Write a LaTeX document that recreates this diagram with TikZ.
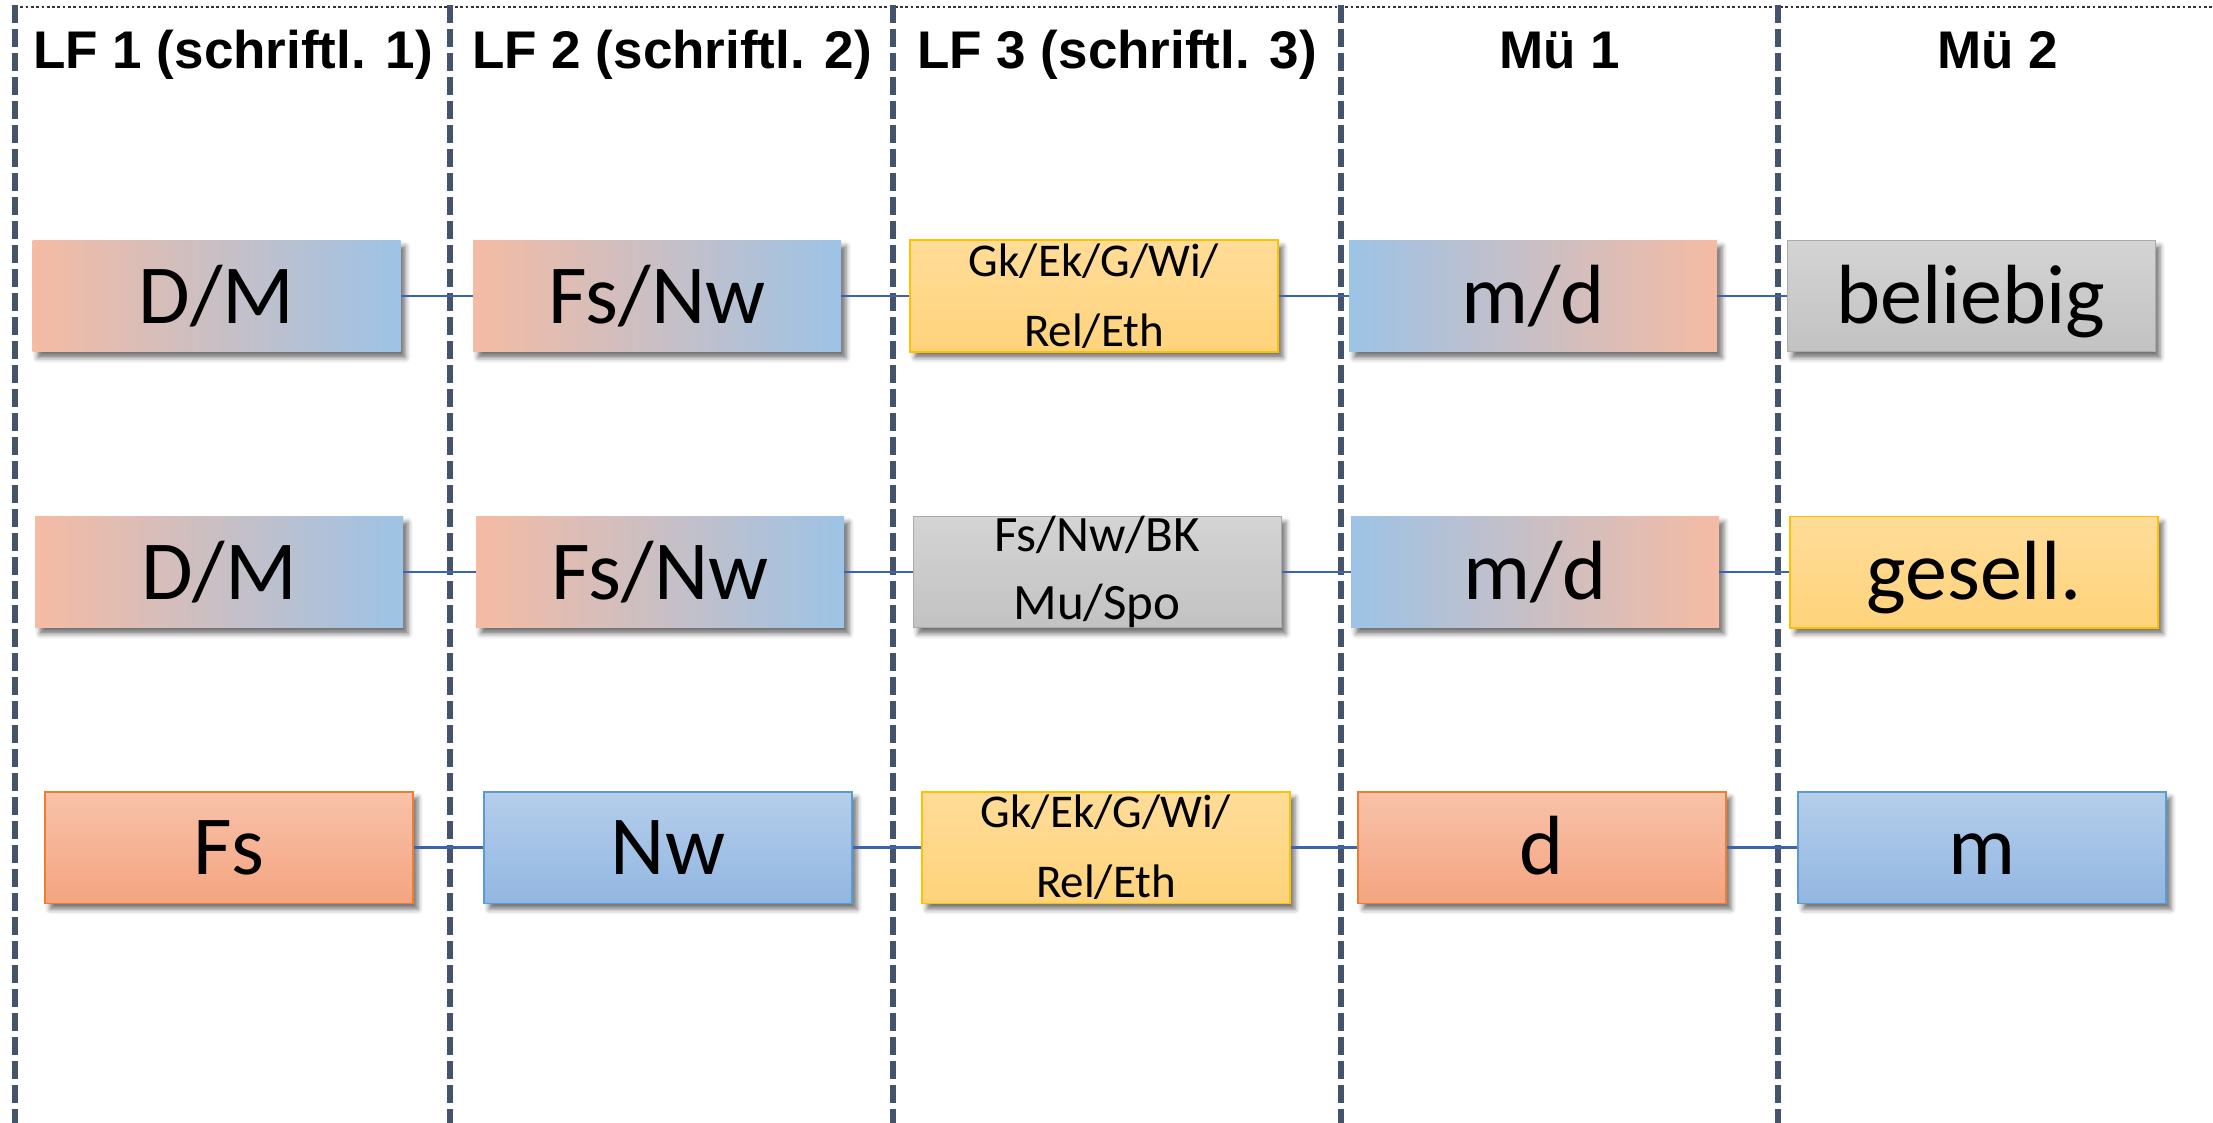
\documentclass[tikz,border=0pt]{standalone}
\usepackage{fontspec}
\setmainfont{Carlito}
\newfontfamily\hdfont{Liberation Sans}
\usetikzlibrary{shadows.blur}
\definecolor{orng}{HTML}{F5BBA3}
\definecolor{blu}{HTML}{9DC3E6}
\definecolor{yeltop}{HTML}{FFDC98}
\definecolor{yelbot}{HTML}{FFD37B}
\definecolor{yelline}{HTML}{FFC000}
\definecolor{grytop}{HTML}{D4D4D4}
\definecolor{grybot}{HTML}{C2C2C2}
\definecolor{gryline}{HTML}{ABABAB}
\definecolor{ortop}{HTML}{F8C2A9}
\definecolor{orbot}{HTML}{F4A480}
\definecolor{orline}{HTML}{ED7D31}
\definecolor{bltop}{HTML}{B5CEEB}
\definecolor{blbot}{HTML}{92B6E1}
\definecolor{blline}{HTML}{5B9BD5}
\definecolor{divcol}{HTML}{44546A}
\definecolor{conncol}{HTML}{3C63AE}
\begin{document}
\begin{tikzpicture}[x=1pt,y=-1pt,
  box/.style={minimum width=368pt,minimum height=111.5pt,inner sep=0pt,
    blur shadow={shadow xshift=5pt,shadow yshift=-6pt,shadow blur radius=5pt,shadow opacity=55}},
  big/.style={font=\fontsize{84}{84}\selectfont,text height=54pt,text depth=0pt},
  small/.style={font=\fontsize{47}{70}\selectfont,align=center},
  smallb/.style={font=\fontsize{51}{68}\selectfont,align=center},
  ob/.style={box,left color=orng,right color=blu},
  bo/.style={box,left color=blu,right color=orng},
  yel/.style={box,top color=yeltop,bottom color=yelbot,draw=yelline,line width=1.5pt},
  gry/.style={box,top color=grytop,bottom color=grybot,draw=gryline,line width=1pt},
  ors/.style={box,top color=ortop,bottom color=orbot,draw=orline,line width=1.5pt},
  bls/.style={box,top color=bltop,bottom color=blbot,draw=blline,line width=1.5pt},
  hdr/.style={anchor=base,font=\hdfont\bfseries\fontsize{53}{53}\selectfont},
  divider/.style={draw=divcol,line width=6pt,dash pattern=on 18pt off 6pt},
  topline/.style={draw=black!80,line width=2.2pt,dash pattern=on 2.7pt off 2.6pt},
  conn/.style={draw=conncol,line width=2.7pt}]
\useasboundingbox (0,0) rectangle (2213,1123);
% top dotted line and column dividers
\draw[topline] (15,7) -- (2213,7);
\foreach \xx in {15,450,893,1341,1778}{
  \draw[divider] (\xx,5) -- (\xx,1123);
}
% headers
\node[hdr] (h1) at (233,69) {LF 1 (schriftl. 1)};
\node[hdr] (h2) at (672,69) {LF 2 (schriftl. 2)};
\node[hdr] (h3) at (1117,69) {LF 3 (schriftl. 3)};
\node[hdr] (h4) at (1559.5,69) {Mü 1};
\node[hdr] (h5) at (1998,69) {Mü 2};
% row 1
\node[ob,big] (a1) at (216.5,296) {D/M};
\node[ob,big] (a2) at (657,296) {Fs/Nw};
\node[yel,small] (a3) at (1094,296) {Gk/Ek/G/Wi/\\Rel/Eth};
\node[bo,big] (a4) at (1533,296) {m/d};
\node[gry,big] (a5) at (1971,296) {beliebig};
% row 2
\node[ob,big] (b1) at (219,572) {D/M};
\node[ob,big] (b2) at (660,572) {Fs/Nw};
\node[gry,smallb] (b3) at (1097,572) {Fs/Nw/BK\\Mu/Spo};
\node[bo,big] (b4) at (1535,572) {m/d};
\node[yel,big] (b5) at (1974,572) {gesell.};
% row 3
\node[ors,big] (c1) at (229,847.5) {Fs};
\node[bls,big] (c2) at (668,847.5) {Nw};
\node[yel,small] (c3) at (1106,847.5) {Gk/Ek/G/Wi/\\Rel/Eth};
\node[ors,big] (c4) at (1542,847.5) {d};
\node[bls,big] (c5) at (1982,847.5) {m};
% connectors
\foreach \r in {a,b,c}{
  \draw[conn] (\r1.east) -- (\r2.west);
  \draw[conn] (\r2.east) -- (\r3.west);
  \draw[conn] (\r3.east) -- (\r4.west);
  \draw[conn] (\r4.east) -- (\r5.west);
}
\end{tikzpicture}
\end{document}
